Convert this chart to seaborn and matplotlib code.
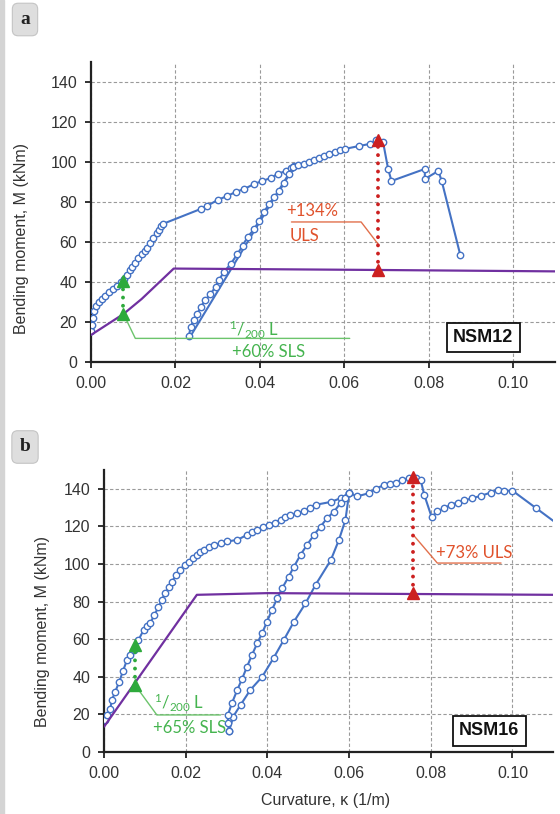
import numpy as np
import pandas as pd
import matplotlib.pyplot as plt
import seaborn as sns
from matplotlib.patches import Rectangle

# ---- panel a (NSM12) ----
a_load_x = [0.0001, 0.0002, 0.0004, 0.0008, 0.0012, 0.0018, 0.0025, 0.0033, 0.0043, 0.0053,
            0.0062, 0.0070, 0.0078, 0.0086, 0.0092, 0.0097, 0.0104, 0.0112, 0.0120, 0.0127,
            0.0133, 0.0140, 0.0148, 0.0156, 0.0161, 0.0166, 0.0170, 0.0260, 0.0275, 0.0300,
            0.0323, 0.0343, 0.0363, 0.0387, 0.0406, 0.0426, 0.0442, 0.0462, 0.0474, 0.0480]
a_load_y = [15.5, 18.5, 22.0, 25.5, 28.0, 30.0, 31.5, 33.0, 35.0, 36.5,
            38.0, 40.0, 41.5, 43.5, 46.0, 47.5, 49.5, 52.0, 54.0, 55.5,
            57.0, 59.5, 62.0, 64.5, 66.0, 68.0, 69.0, 76.5, 78.0, 81.0,
            83.0, 85.0, 86.5, 89.0, 90.5, 92.0, 94.0, 95.5, 97.0, 98.0]
a_unload_x = [0.0480, 0.0236]
a_unload_y = [98.0, 13.0]
a_reload_x = [0.0232, 0.0236, 0.0244, 0.0252, 0.0260, 0.0271, 0.0283, 0.0295, 0.0303, 0.0315,
              0.0331, 0.0347, 0.0359, 0.0371, 0.0387, 0.0398, 0.0410, 0.0422, 0.0434, 0.0446,
              0.0458, 0.0470, 0.0478, 0.0490, 0.0505, 0.0517, 0.0529, 0.0541, 0.0553, 0.0565,
              0.0577, 0.0590, 0.0601, 0.0636, 0.0660, 0.0676, 0.0692, 0.0704, 0.0712, 0.0791,
              0.0791, 0.0823, 0.0831, 0.0875]
a_reload_y = [13.0, 17.5, 21.0, 24.0, 27.5, 31.0, 34.0, 37.5, 41.0, 45.0,
              49.0, 54.0, 58.0, 62.5, 66.5, 70.5, 75.0, 79.0, 82.5, 85.5,
              89.5, 94.0, 97.5, 98.5, 99.0, 100.0, 101.0, 102.0, 103.0, 104.0,
              105.0, 106.0, 106.5, 108.0, 109.0, 111.0, 110.0, 96.5, 90.5, 96.5,
              91.5, 95.5, 90.5, 53.5]
a_model_x = [0.0, 0.0077, 0.0120, 0.0196, 0.0680, 0.1100]
a_model_y = [13.5, 24.0, 31.5, 46.7, 46.0, 45.3]
a_sls_x, a_sls_y = 0.0077, [24.0, 40.5]
a_uls_x, a_uls_y = 0.0680, [46.0, 111.0]

# ---- panel b (NSM16) ----
b_load_x = [0.0002, 0.0007, 0.0015, 0.0019, 0.0027, 0.0037, 0.0046, 0.0056, 0.0064, 0.0072,
            0.0084, 0.0097, 0.0105, 0.0113, 0.0123, 0.0133, 0.0141, 0.0150, 0.0158, 0.0166,
            0.0176, 0.0186, 0.0197, 0.0207, 0.0217, 0.0227, 0.0235, 0.0244, 0.0256, 0.0268,
            0.0285, 0.0301, 0.0326, 0.0350, 0.0363, 0.0375, 0.0389, 0.0403, 0.0418, 0.0432,
            0.0444, 0.0456, 0.0472, 0.0489, 0.0503, 0.0518, 0.0555, 0.0579, 0.0600]
b_load_y = [17.0, 19.7, 23.0, 27.7, 32.0, 37.4, 43.0, 49.0, 51.5, 54.0,
            59.6, 65.0, 67.0, 68.5, 73.0, 77.0, 81.0, 84.5, 87.5, 90.6,
            94.0, 97.0, 99.5, 101.3, 103.0, 105.0, 106.5, 107.5, 109.0, 110.2,
            111.0, 112.0, 112.8, 115.5, 117.0, 118.2, 119.5, 120.8, 122.0, 123.5,
            125.0, 126.0, 127.0, 128.0, 130.0, 131.5, 133.0, 135.0, 137.7]
b_unload_x = [0.0600, 0.0591, 0.0575, 0.0555, 0.0518, 0.0493, 0.0465, 0.0440, 0.0415, 0.0387,
              0.0358, 0.0334, 0.0316, 0.0306]
b_unload_y = [137.7, 123.5, 112.8, 102.0, 89.0, 79.0, 69.4, 59.6, 50.0, 40.0,
              33.0, 25.0, 18.8, 11.0]
b_reload_x = [0.0306, 0.0303, 0.0303, 0.0313, 0.0326, 0.0338, 0.0350, 0.0362, 0.0375, 0.0387,
              0.0399, 0.0411, 0.0424, 0.0436, 0.0452, 0.0465, 0.0481, 0.0497, 0.0514, 0.0530,
              0.0546, 0.0563, 0.0579, 0.0591, 0.0600, 0.0620, 0.0649, 0.0665, 0.0685, 0.0700,
              0.0714, 0.0730, 0.0747, 0.0763, 0.0775, 0.0784, 0.0802, 0.0816, 0.0833, 0.0849,
              0.0866, 0.0882, 0.0902, 0.0923, 0.0947, 0.0964, 0.0980, 0.1000, 0.1058, 0.1140]
b_reload_y = [11.0, 15.3, 19.7, 26.0, 33.0, 39.0, 45.4, 51.6, 57.9, 63.2,
              69.4, 75.6, 81.8, 87.1, 93.3, 98.6, 104.9, 110.2, 115.5, 119.9,
              124.4, 127.9, 132.4, 135.0, 137.7, 136.0, 137.7, 140.0, 142.0, 142.5,
              143.0, 144.8, 145.7, 146.0, 144.8, 136.8, 125.0, 128.0, 129.7, 131.5,
              132.7, 133.8, 135.0, 136.3, 138.0, 139.5, 139.0, 139.0, 129.7, 116.5]
b_model_x = [0.0, 0.0227, 0.0400, 0.1100]
b_model_y = [13.5, 83.6, 84.5, 83.6]
b_sls_x, b_sls_y = 0.0076, [35.5, 57.0]
b_uls_x, b_uls_y = 0.0757, [84.5, 146.5]

x_ticks = [0.00, 0.02, 0.04, 0.06, 0.08, 0.10]
y_ticks = [0, 20, 40, 60, 80, 100, 120, 140]

BLUE = '#4472c4'
PURPLE = '#7030a0'
RED = '#cc2020'
RED_TXT = '#e0522c'
GREEN = '#2eaa3c'
GREEN_TXT = '#45b44f'

sns.set_theme(style='ticks')
plt.rcParams['font.family'] = ['Liberation Sans', 'DejaVu Sans']

fig = plt.figure(figsize=(5.6, 8.14), dpi=100)
ax1 = fig.add_axes([0.1625, 0.5553, 0.829, 0.3686])
ax2 = fig.add_axes([0.186, 0.0762, 0.802, 0.3464])

fig.patches.append(Rectangle((0, 0), 4 / 560, 1, transform=fig.transFigure,
                             color='#d4d4d4', zorder=0))


def curve(ax, x, y, marker=True):
    df = pd.DataFrame({'x': x, 'y': y})
    kw = dict(marker='o', markersize=4.6, markerfacecolor='white',
              markeredgecolor=BLUE, markeredgewidth=1.0) if marker else {}
    sns.lineplot(data=df, x='x', y='y', ax=ax, sort=False, estimator=None,
                 color=BLUE, linewidth=1.5, zorder=3, **kw)


def model(ax, x, y):
    sns.lineplot(x=x, y=y, ax=ax, sort=False, estimator=None,
                 color=PURPLE, linewidth=1.6, zorder=4)


def vmark(ax, x, ys, col):
    ax.plot([x, x], ys, color=col, linestyle=(0, (0.01, 2.1)), linewidth=2.8,
            dash_capstyle='round', zorder=5)
    ax.plot([x, x], ys, linestyle='none', marker='^', markersize=8,
            color=col, zorder=6)


def style(ax, label, pos):
    ax.set_xlim(0, 0.11)
    ax.set_ylim(0, 150)
    ax.set_xticks(x_ticks)
    ax.set_xticklabels([f'{t:.2f}' for t in x_ticks])
    ax.set_yticks(y_ticks)
    ax.grid(True, color='#9a9a9a', linestyle=(0, (3, 2)), linewidth=0.8)
    ax.set_axisbelow(True)
    for s in ['top', 'right']:
        ax.spines[s].set_visible(False)
    for s in ['left', 'bottom']:
        ax.spines[s].set_linewidth(1.6)
        ax.spines[s].set_color('#222222')
    ax.tick_params(direction='out', length=4, width=1.3, color='#222222',
                   labelsize=11.5, labelcolor='#333333', pad=6)
    ax.set_xlabel('')
    ax.set_ylabel('Bending moment, M (kNm)', fontsize=11.5, color='#333333')
    ax.text(pos[0], pos[1], label, transform=ax.transAxes, ha='center', va='center',
            fontsize=13, fontweight='bold', color='#111111', zorder=7,
            bbox=dict(boxstyle='square,pad=0.35', fc='white', ec='#111111', lw=1.3))


ann = dict(family=['Lato', 'DejaVu Sans'], fontsize=12)

# panel a
model(ax1, a_model_x, a_model_y)
curve(ax1, a_load_x, a_load_y)
curve(ax1, a_unload_x, a_unload_y, marker=False)
curve(ax1, a_reload_x, a_reload_y)
vmark(ax1, a_sls_x, a_sls_y, GREEN)
vmark(ax1, a_uls_x, a_uls_y, RED)
ax1.plot([a_sls_x, 0.0105, 0.0613], [a_sls_y[0], 11.8, 11.8], color='#6cc46c', lw=1.0, zorder=4)
ax1.text(0.0327, 16.0, r'$\mathregular{^1/_{200}}$ L', color=GREEN_TXT, ha='left', va='center', **ann)
ax1.text(0.0335, 5.0, '+60% SLS', color=GREEN_TXT, ha='left', va='center', **ann)
ax1.plot([a_uls_x, 0.0640, 0.0475], [59.0, 70.0, 70.0], color='#e2704c', lw=1.0, zorder=4)
ax1.text(0.0462, 75.5, '+134%', color=RED_TXT, ha='left', va='center', **ann)
ax1.text(0.0470, 63.0, 'ULS', color=RED_TXT, ha='left', va='center', **ann)
style(ax1, 'NSM12', (0.845, 0.082))
ax1.yaxis.set_label_coords(-0.134, 0.413)

# panel b
model(ax2, b_model_x, b_model_y)
curve(ax2, b_load_x, b_load_y)
curve(ax2, b_unload_x, b_unload_y)
curve(ax2, b_reload_x, b_reload_y)
vmark(ax2, b_sls_x, b_sls_y, GREEN)
vmark(ax2, b_uls_x, b_uls_y, RED)
ax2.plot([b_sls_x, 0.0129, 0.0285], [b_sls_y[0], 19.7, 19.7], color='#6cc46c', lw=1.0, zorder=4)
ax2.text(0.0122, 26.0, r'$\mathregular{^1/_{200}}$ L', color=GREEN_TXT, ha='left', va='center', **ann)
ax2.text(0.0120, 13.0, '+65% SLS', color=GREEN_TXT, ha='left', va='center', **ann)
ax2.plot([b_uls_x, 0.0816, 0.0972], [115.5, 100.5, 100.5], color='#e2704c', lw=1.0, zorder=4)
ax2.text(0.0812, 106.0, '+73% ULS', color=RED_TXT, ha='left', va='center', **ann)
style(ax2, 'NSM16', (0.857, 0.075))
ax2.set_xlabel('Curvature, \u03ba (1/m)', fontsize=11.5, color='#333333')
ax2.xaxis.set_label_coords(0.492, -0.145)
ax2.yaxis.set_label_coords(-0.120, 0.426)

# panel letters
for lbl, yy in [('a', 1 - 19.5 / 814), ('b', 1 - 447 / 814)]:
    fig.text(25 / 560, yy, lbl, ha='center', va='center', fontsize=14, fontweight='bold',
             family=['Liberation Serif', 'DejaVu Serif'], color='#222222',
             bbox=dict(boxstyle='round,pad=0.4,rounding_size=0.3', fc='#dedede', ec='#c4c4c4', lw=0.8))

fig.savefig('out.png', dpi=100)
